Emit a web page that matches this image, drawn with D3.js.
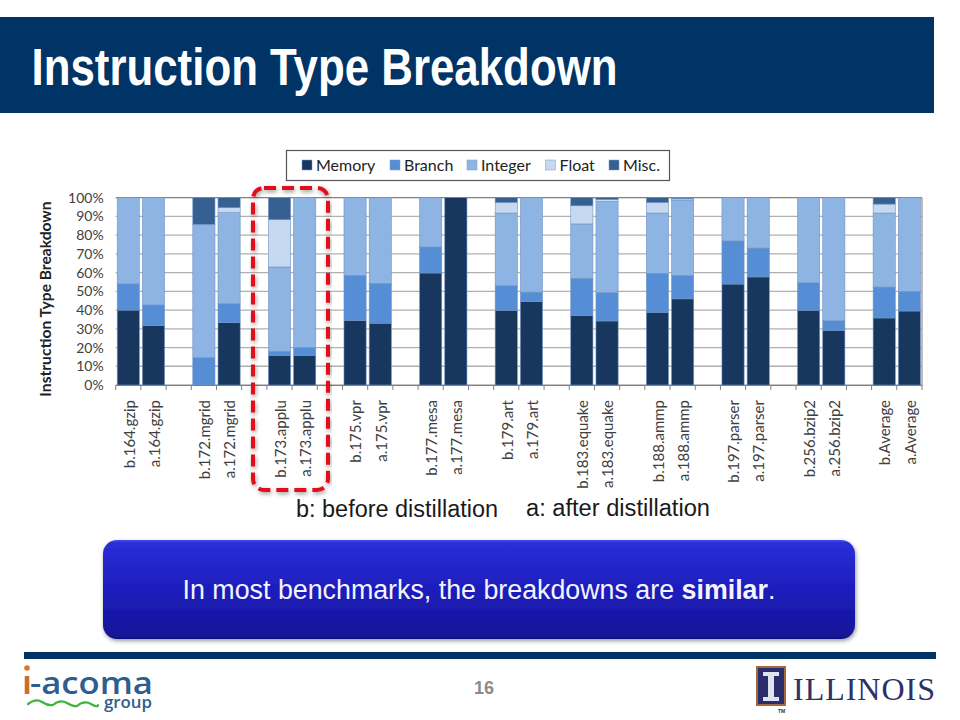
<!DOCTYPE html>
<html><head><meta charset="utf-8">
<script src="https://cdnjs.cloudflare.com/ajax/libs/d3/7.8.5/d3.min.js"></script>
<style>html,body{margin:0;padding:0;background:#fff}svg{display:block}</style></head>
<body><svg id="c" width="960" height="720"></svg>
<script>
const categories=["b.164.gzip","a.164.gzip","gap1","b.172.mgrid","a.172.mgrid","gap2","b.173.applu","a.173.applu","gap3","b.175.vpr","a.175.vpr","gap4","b.177.mesa","a.177.mesa","gap5","b.179.art","a.179.art","gap6","b.183.equake","a.183.equake","gap7","b.188.ammp","a.188.ammp","gap8","b.197.parser","a.197.parser","gap9","b.256.bzip2","a.256.bzip2","gap10","b.Average","a.Average"];
const memory =[40,31.7,0, 0,33.3,0, 15.8,15.8,0, 34.5,33,0, 59.8,100,0, 39.9,44.5,0, 37,34.2,0, 38.8,46,0, 53.9,57.7,0, 39.9,29.2,0, 35.8,39.5];
const branch =[14,11,0, 14.6,10.1,0, 2.2,4.2,0, 24,21.3,0, 13.9,0,0, 13.1,5.1,0, 20,15.1,0, 20.8,12.5,0, 23,15.4,0, 14.7,5.1,0, 16.5,10.5];
const integer=[46,57.3,0, 71.2,48.6,0, 45,80,0, 41.5,45.7,0, 26.3,0,0, 38.8,50.4,0, 29,48.6,0, 32.2,40.3,0, 23.1,26.9,0, 45.4,65.7,0, 39.5,50];
const floatP =[0,0,0, 0,2.7,0, 25.3,0,0, 0,0,0, 0,0,0, 5.7,0,0, 9.7,1.2,0, 5.7,0.7,0, 0,0,0, 0,0,0, 4.8,0];
const misc   =[0,0,0, 14.2,5.3,0, 11.7,0,0, 0,0,0, 0,0,0, 2.5,0,0, 4.3,0.9,0, 2.5,0.5,0, 0,0,0, 0,0,0, 3.4,0];
const seriesNames=["Memory","Branch","Integer","Float","Misc."];
const seriesColors=["#17375e","#558ed5","#8eb4e3","#c6d9f1","#376092"];
const yTicks=[0,10,20,30,40,50,60,70,80,90,100];
const titleText="Instruction Type Breakdown";
const yAxisTitle="Instruction Type Breakdown";
const noteBefore="b: before distillation", noteAfter="a: after distillation";
const pageNumber="16";

const svg=d3.select("#c");
const defs=svg.append("defs");
const g1=defs.append("linearGradient").attr("id","box").attr("x1",0).attr("x2",0).attr("y1",0).attr("y2",1);
[[0,"#4a4ff0"],[0.03,"#2a2ed8"],[0.45,"#1f1fc0"],[0.95,"#14149a"],[1,"#101080"]].forEach(s=>g1.append("stop").attr("offset",s[0]).attr("stop-color",s[1]));
const f=defs.append("filter").attr("id","sh").attr("x","-5%").attr("y","-5%").attr("width","110%").attr("height","115%");
f.append("feDropShadow").attr("dx",1).attr("dy",2).attr("stdDeviation",2).attr("flood-color","#000").attr("flood-opacity",0.4);

// header
svg.append("rect").attr("x",0).attr("y",17).attr("width",934).attr("height",96).attr("fill","#003366");
svg.append("text").text(titleText).attr("x",0).attr("y",0)
  .attr("transform","translate(31.5,85) scale(0.843,1)")
  .attr("font-family","Liberation Sans").attr("font-weight","bold").attr("font-size",52).attr("fill","#fff");

// chart
const m={l:115.7,r:922,t:197.7,b:385};
const x=d3.scaleBand().domain(categories).range([m.l,m.r]).paddingInner(0.12).paddingOuter(0.06);
const xSlot=d3.scaleBand().domain(categories).range([m.l,m.r]);
const y=d3.scaleLinear().domain([0,100]).range([m.b,m.t]);
const rows=categories.map((c,i)=>({c,Memory:memory[i],Branch:branch[i],Integer:integer[i],Float:floatP[i],"Misc.":misc[i]}));
const stack=d3.stack().keys(seriesNames)(rows);
const chart=svg.append("g").attr("font-family","Lato");

chart.append("g").selectAll("line").data(yTicks).join("line")
  .attr("x1",m.l).attr("x2",m.r).attr("y1",d=>y(d)).attr("y2",d=>y(d))
  .attr("stroke",d=>d==100?"#808080":"#b0b0b0").attr("stroke-width",1.3);
chart.append("line").attr("x1",m.r).attr("x2",m.r).attr("y1",m.t).attr("y2",m.b).attr("stroke","#a6a6a6").attr("stroke-width",1.5);

const sg=chart.append("g").selectAll("g").data(stack).join("g").attr("fill",(d,i)=>seriesColors[i]);
sg.selectAll("rect").data(d=>d.filter(v=>v[1]-v[0]>0).map(v=>({v,c:v.data.c}))).join("rect")
  .attr("x",d=>x(d.c)).attr("width",x.bandwidth())
  .attr("y",d=>y(d.v[1])).attr("height",d=>y(d.v[0])-y(d.v[1]))
  .attr("stroke","#6f93c4").attr("stroke-width",0.6);

const yAxis=d3.axisLeft(y).tickValues(yTicks).tickFormat(d=>d+"%").tickSize(0).tickPadding(12);
const ya=chart.append("g").attr("transform",`translate(${m.l},0)`).call(yAxis).attr("font-family","Lato");
ya.select(".domain").remove();
ya.selectAll("text").attr("font-size",14).attr("fill","#404040");

const xAxis=d3.axisBottom(xSlot).tickSize(0).tickFormat(d=>d.startsWith("gap")?"":d);
const xa=chart.append("g").attr("transform",`translate(0,${m.b})`).call(xAxis).attr("font-family","Lato");
xa.select(".domain").attr("stroke","#808080").attr("stroke-width",1.2);
xa.selectAll("text").attr("font-size",15).attr("fill","#404040").attr("text-anchor","end")
  .attr("transform","translate(1,15) rotate(-90)").attr("x",0).attr("y",0).attr("dy","0.35em");
const edges=d3.range(categories.length).map(i=>xSlot(categories[i])).concat([m.r]);
chart.append("g").selectAll("line").data(edges).join("line")
  .attr("x1",d=>d).attr("x2",d=>d).attr("y1",m.b).attr("y2",m.b+5).attr("stroke","#808080");

chart.append("text").text(yAxisTitle).attr("transform",`translate(51,299) rotate(-90)`)
  .attr("text-anchor","middle").attr("font-weight","bold").attr("font-size",15.6).attr("fill","#222");

// legend
const lg=chart.append("g");
lg.append("rect").attr("x",286.5).attr("y",150.5).attr("width",383).attr("height",30).attr("fill","#fff").attr("stroke","#555").attr("stroke-width",1.2);
const lx=[302,390,467,545.5,609];
const li=lg.selectAll("g").data(seriesNames).join("g").attr("transform",(d,i)=>`translate(${lx[i]},160)`);
li.append("rect").attr("width",10).attr("height",10).attr("fill",(d,i)=>seriesColors[i]).attr("stroke","#7a9cc8").attr("stroke-width",0.5);
li.append("text").text(d=>d).attr("x",14).attr("y",10.5).attr("font-size",16).attr("fill","#222");

// highlight
svg.append("rect").attr("x",253).attr("y",188).attr("width",75).attr("height",302).attr("rx",11).attr("ry",11)
  .attr("fill","none").attr("stroke","#e3101c").attr("stroke-width",4).attr("stroke-dasharray","12 6").attr("filter","url(#sh)");

// notes
svg.append("text").text(noteBefore).attr("x",296).attr("y",516.5).attr("font-family","Liberation Sans").attr("font-size",23).attr("textLength",202).attr("lengthAdjust","spacingAndGlyphs").attr("fill","#1a1a1a");
svg.append("text").text(noteAfter).attr("x",526).attr("y",515.5).attr("font-family","Liberation Sans").attr("font-size",23).attr("textLength",184).attr("lengthAdjust","spacingAndGlyphs").attr("fill","#1a1a1a");

// call-out
svg.append("rect").attr("x",103).attr("y",540).attr("width",752).attr("height",99).attr("rx",14).attr("fill","url(#box)").attr("filter","url(#sh)");
const tt=svg.append("text").attr("x",479).attr("y",599).attr("text-anchor","middle").attr("font-family","Liberation Sans").attr("font-size",26.8).attr("fill","#f4f4ff");
tt.append("tspan").text("In most benchmarks, the breakdowns are ");
tt.append("tspan").text("similar").attr("font-weight","bold");
tt.append("tspan").text(".");

// footer
svg.append("rect").attr("x",24).attr("y",652).attr("width",912).attr("height",7).attr("fill","#003366");
svg.append("text").text(pageNumber).attr("x",484).attr("y",694).attr("text-anchor","middle").attr("font-family","Liberation Sans").attr("font-weight","bold").attr("font-size",18).attr("fill","#8c8c8c");

// i-acoma logo
const lo=svg.append("g");
lo.append("circle").attr("cx",27).attr("cy",668).attr("r",2.8).attr("fill","#d9782a");
lo.append("rect").attr("x",24.7).attr("y",676).attr("width",4.6).attr("height",18).attr("fill","#c96f28");
lo.append("text").text("-acoma").attr("x",30).attr("y",694).attr("font-family","Open Sans").attr("font-weight","600").attr("font-size",31).attr("textLength",123).attr("lengthAdjust","spacingAndGlyphs").attr("fill","#2f5d8f");
lo.append("text").text("group").attr("x",104).attr("y",708).attr("font-family","Open Sans").attr("font-weight","600").attr("font-size",17).attr("textLength",48).attr("lengthAdjust","spacingAndGlyphs").attr("fill","#2f5d8f");
lo.append("path").attr("d","M28 704q8-6 14-2t11 3q7-6 14-2t10 3q7-6 14-2t7 1").attr("fill","none").attr("stroke","#3eb33e").attr("stroke-width",2.2).attr("stroke-linecap","round");

// Illinois logo
const il=svg.append("g");
il.append("rect").attr("x",757).attr("y",667).attr("width",28).attr("height",38).attr("fill","#2b2c6b").attr("stroke","#a5683a").attr("stroke-width",2);
il.append("path").attr("d","M763 672h16v4h-5v21h5v4h-16v-4h5v-21h-5z").attr("fill","#dfe3ee");
il.append("text").text("ILLINOIS").attr("x",793).attr("y",700).attr("font-family","Liberation Serif").attr("font-size",32).attr("textLength",142).attr("lengthAdjust","spacing").attr("fill","#2e3068");
il.append("text").text("TM").attr("x",778).attr("y",713).attr("font-family","Liberation Sans").attr("font-weight","bold").attr("font-size",5).attr("fill","#333");
</script></body></html>
